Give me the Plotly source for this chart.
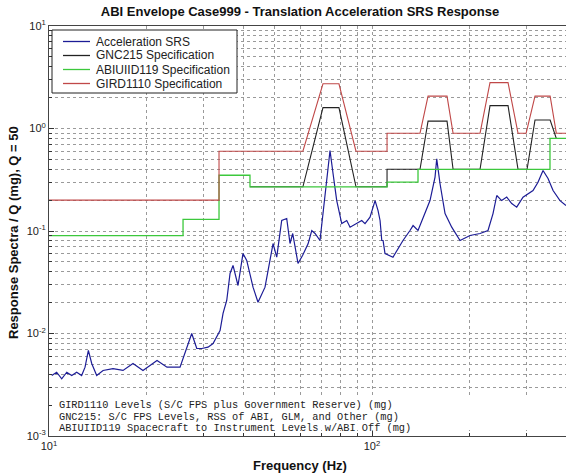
import plotly.graph_objects as go
import numpy as np

# ---- data ----
srs_freq = [10.2, 10.56, 10.95, 11.35, 11.76, 12.18, 12.62, 12.93, 13.24, 13.56, 14.05, 14.7,
            15.78, 16.95, 18.2, 19.54, 21.6, 23.19, 25.45, 26.37, 27.66, 28.67, 29.71, 31.07,
            32.2, 33.85, 34.58, 35.5, 36.35, 37.13, 38.47, 39.86, 40.94, 42.82, 44.37, 46.64,
            49.39, 50.7, 52.53, 54.44, 55.74, 56.82, 59.01, 61.0, 63.39, 65.08, 66.63, 69.02,
            72.39, 74.13, 75.74, 77.76, 80.59, 83.52, 85.51, 89.66, 92.92, 95.13, 98.58, 102.2,
            104.4, 105.9, 107.2, 108.2, 109.7, 116.1, 119.3, 124.7, 131.1, 134.0, 138.8, 143.9,
            151.2, 156.7, 158.6, 162.4, 168.3, 176.5, 187.3, 201.1, 216.0, 228.6, 236.9, 243.3,
            252.0, 261.2, 270.7, 280.5, 293.4, 315.1, 326.5, 338.4, 350.7, 363.5, 381.9, 398.6]
srs_val = [0.00389, 0.00419, 0.00361, 0.00419, 0.00389, 0.00419, 0.00389, 0.00469, 0.00683, 0.0051,
           0.00389, 0.00436, 0.00455, 0.00436, 0.0051, 0.00436, 0.00545, 0.00469, 0.00469, 0.00638,
           0.0100, 0.00714, 0.00714, 0.00735, 0.00799, 0.0107, 0.0157, 0.021, 0.0385, 0.0461,
           0.0294, 0.0603, 0.0516, 0.0283, 0.0202, 0.0283, 0.0755, 0.0555, 0.1266, 0.1324,
           0.0755, 0.0945, 0.0482, 0.058, 0.075, 0.101, 0.0945, 0.0808, 0.289, 0.61, 0.364,
           0.198, 0.118, 0.1266, 0.109, 0.118, 0.1266, 0.118, 0.1364, 0.198, 0.158, 0.1266,
           0.0808, 0.0808, 0.0603, 0.0555, 0.0645, 0.0808, 0.1011, 0.113, 0.1011, 0.1364,
           0.198, 0.335, 0.506, 0.289, 0.148, 0.109, 0.0808, 0.0904, 0.0945, 0.1011, 0.148,
           0.222, 0.198, 0.214, 0.185, 0.171, 0.214, 0.248, 0.299, 0.389, 0.325, 0.248, 0.198,
           0.177]

gnc_freq = [41.9, 61.1, 70.5, 79.0, 89.2, 111.3, 111.3, 140.8, 149.1, 170.7, 178.2, 216.0,
            231.9, 263.7, 283.1, 302.0, 319.6, 356.0, 372.0, 400.0]
gnc_val = [0.27, 0.27, 1.6, 1.6, 0.27, 0.27, 0.4, 0.4, 1.18, 1.18, 0.4, 0.4,
           1.67, 1.67, 0.4, 0.4, 1.21, 1.21, 0.8, 0.8]

abi_freq = [10.0, 26.0, 26.0, 33.6, 33.6, 41.9, 41.9, 111.3, 111.3, 138.8, 138.8, 355.6, 355.6, 400.0]
abi_val = [0.09, 0.09, 0.13, 0.13, 0.35, 0.35, 0.27, 0.27, 0.30, 0.30, 0.40, 0.40, 0.80, 0.80]

gird_freq = [10.0, 33.6, 33.6, 61.1, 70.5, 79.0, 89.2, 111.3, 111.3, 140.8, 149.1, 170.7, 178.2,
             216.0, 231.9, 263.7, 283.1, 300.0, 319.6, 356.0, 372.0, 400.0]
gird_val = [0.2, 0.2, 0.6, 0.6, 2.73, 2.73, 0.6, 0.6, 0.9, 0.9, 2.07, 2.07, 0.9,
            0.9, 2.8, 2.8, 0.9, 0.9, 2.07, 2.07, 0.9, 0.9]

series_names = ["Acceleration SRS", "GNC215 Specification",
                "ABIUIID119 Specification", "GIRD1110 Specification"]
series_colors = ["#1c1c96", "#222222", "#3cc83c", "#c04848"]

x_major = [10, 100]
x_major_text = ["10<sup>1</sup>", "10<sup>2</sup>"]
y_major = [0.001, 0.01, 0.1, 1, 10]
y_major_text = ["10<sup>-3</sup>", "10<sup>-2</sup>", "10<sup>-1</sup>", "10<sup>0</sup>", "10<sup>1</sup>"]

notes = ["GIRD1110 Levels (S/C FPS plus Government Reserve) (mg)",
         "GNC215: S/C FPS Levels, RSS of ABI, GLM, and Other (mg)",
         "ABIUIID119 Spacecraft to Instrument Levels w/ABI Off (mg)"]

title = "ABI Envelope Case999 - Translation Acceleration SRS Response"
xlabel = "Frequency (Hz)"
ylabel = "Response Spectra / Q (mg), Q = 50"

# ---- layout constants (pixels) ----
W, H = 566, 476
ML, MR, MT, MB = 49, 0, 26, 40
PW, PH = W - ML - MR, H - MT - MB


def px(x):
    return (x - ML) / PW


def py(y):
    return (MT + PH - y) / PH


x_minor = [m * 10 ** d for d in (1, 2) for m in range(2, 10) if m * 10 ** d <= 400]
y_minor = [m * 10.0 ** d for d in (-3, -2, -1, 0) for m in range(2, 10)]

fig = go.Figure()
widths = [1.2, 1.1, 1.3, 1.1]
for xs, ys, name, col, w in zip([srs_freq, gnc_freq, abi_freq, gird_freq],
                                [srs_val, gnc_val, abi_val, gird_val],
                                series_names, series_colors, widths):
    fig.add_trace(go.Scatter(x=xs, y=ys, mode="lines", name=name,
                             line=dict(color=col, width=w), showlegend=False))

grid = dict(showgrid=True, gridcolor="#9a9a9a", griddash="dot", gridwidth=1)
fig.update_xaxes(type="log", range=[1, np.log10(398.6)], tickmode="array",
                 tickvals=x_major, ticktext=x_major_text, ticks="inside", ticklen=5,
                 tickcolor="#333", showline=True, linecolor="#444", linewidth=1, mirror=True,
                 minor=dict(tickmode="array", tickvals=x_minor, ticks="inside", ticklen=3,
                            tickcolor="#333", **grid),
                 tickfont=dict(size=11, color="#222"), zeroline=False, **grid)
fig.update_yaxes(type="log", range=[-3, 1], tickmode="array",
                 tickvals=y_major, ticktext=y_major_text, ticks="inside", ticklen=5,
                 tickcolor="#333", showline=True, linecolor="#444", linewidth=1, mirror=True,
                 minor=dict(tickmode="array", tickvals=y_minor, ticks="inside", ticklen=3,
                            tickcolor="#333", **grid),
                 tickfont=dict(size=11, color="#222"), zeroline=False, **grid)

# white backing behind the notes text (hides grid there)
fig.add_shape(type="rect", xref="paper", yref="paper", x0=px(ML + 5), x1=1,
              y0=py(MT + PH - 6), y1=py(397),
              fillcolor="white", line=dict(width=0), layer="above")

for i, t in enumerate(notes):
    fig.add_annotation(text=t, xref="paper", yref="paper", x=px(57),
                       y=py(405 + i * 11.5), xanchor="left", yanchor="middle",
                       showarrow=False,
                       font=dict(family="Liberation Mono", size=10.3, color="#222"))

# legend box drawn by hand so row spacing matches the reference
LX0, LX1, LY0, LY1 = 52, 237, 30, 93
row_y = [41.5, 55.5, 69.5, 83.5]
fig.add_shape(type="rect", xref="paper", yref="paper", x0=px(LX0), x1=px(LX1),
              y0=py(LY1), y1=py(LY0), fillcolor="white",
              line=dict(color="#222", width=1), layer="above")
for name, col, ry in zip(series_names, series_colors, row_y):
    fig.add_shape(type="line", xref="paper", yref="paper", x0=px(63), x1=px(90),
                  y0=py(ry), y1=py(ry), line=dict(color=col, width=1.3), layer="above")
    fig.add_annotation(text=name, xref="paper", yref="paper", x=px(94), y=py(ry),
                       xanchor="left", yanchor="middle", showarrow=False,
                       font=dict(family="Liberation Sans", size=12, color="#222"))

fig.add_annotation(text=f"<b>{ylabel}</b>", xref="paper", yref="paper",
                   x=px(13), y=py(233), textangle=-90, showarrow=False,
                   xanchor="center", yanchor="middle",
                   font=dict(family="Liberation Sans", size=13, color="#111"))
fig.add_annotation(text=f"<b>{xlabel}</b>", xref="paper", yref="paper",
                   x=px(300), y=py(465), showarrow=False,
                   xanchor="center", yanchor="middle",
                   font=dict(family="Liberation Sans", size=13, color="#111"))

fig.update_layout(
    width=W, height=H, margin=dict(l=ML, r=MR, t=MT, b=MB),
    paper_bgcolor="white", plot_bgcolor="white",
    font=dict(family="Liberation Sans", color="#222"),
    title=dict(text=f"<b>{title}</b>", x=300 / W, xanchor="center", xref="container",
               y=1 - 11 / H, yanchor="middle", yref="container",
               font=dict(family="Liberation Sans", size=13, color="#111")),
    showlegend=False,
)

fig.write_html("out.html")
